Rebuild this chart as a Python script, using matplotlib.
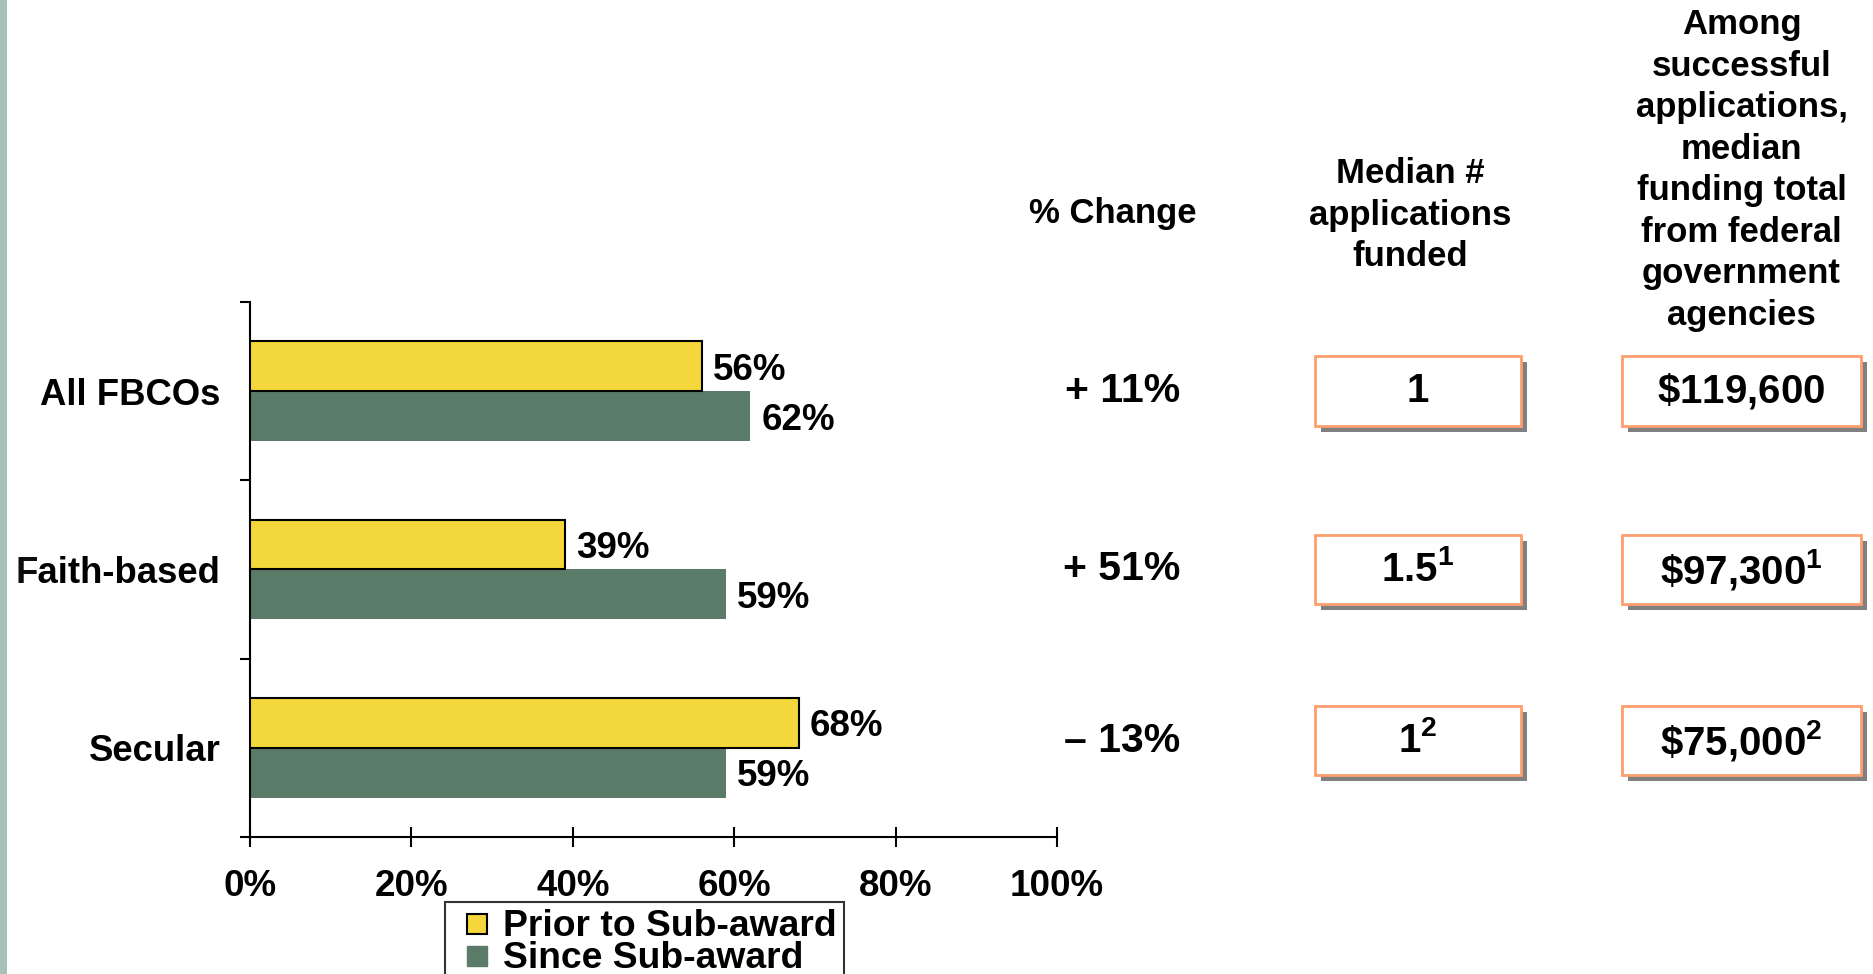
import matplotlib.pyplot as plt
import matplotlib.transforms as mtransforms
from matplotlib.patches import Rectangle
from matplotlib.lines import Line2D
import numpy as np

plt.rcParams['font.family'] = ['Liberation Sans', 'DejaVu Sans']
plt.rcParams['font.weight'] = 'bold'
plt.rcParams['mathtext.fontset'] = 'custom'
plt.rcParams['mathtext.rm'] = 'Liberation Sans:bold'
plt.rcParams['mathtext.bf'] = 'Liberation Sans:bold'

# data
categories = ["All FBCOs", "Faith-based", "Secular"]
prior = [56, 39, 68]
since = [62, 59, 59]
pct_change = ["+ 11%", "+ 51%", "\u2013 13%"]
median_apps = ["1", "1.5$^{1}$", "1$^{2}$"]
median_funding = ["$\\$$119,600", "$\\$$97,300$^{1}$", "$\\$$75,000$^{2}$"]
xticks = [0, 20, 40, 60, 80, 100]
series_names = ["Prior to Sub-award", "Since Sub-award"]

yellow = "#f4d83b"
green = "#5b7b69"

fig = plt.figure(figsize=(18.74, 9.74), dpi=100)
ax = fig.add_axes([0.1334, 0.1407, 0.4306, 0.5493])

y = np.arange(len(categories))
h = 0.28
ax.barh(y - h / 2, prior, height=h, color=yellow, edgecolor="black", linewidth=1.5, zorder=3)
ax.barh(y + h / 2, since, height=h, color=green, zorder=2)

for i in range(len(categories)):
    ax.annotate(f"{prior[i]}%", (prior[i], y[i] - h / 2), xytext=(8, -3),
                textcoords="offset points", va="center", ha="left", fontsize=26.5)
    ax.annotate(f"{since[i]}%", (since[i], y[i] + h / 2), xytext=(8, -3),
                textcoords="offset points", va="center", ha="left", fontsize=26.5)

ax.set_xlim(0, 100)
ax.set_ylim(2.5, -0.5)
ax.set_xticks(xticks)
ax.set_xticklabels([f"{t}%" for t in xticks], fontsize=26.5)
ax.set_yticks([-0.5, 0.5, 1.5, 2.5])
ax.set_yticklabels([])
ax.set_yticks(y, minor=True)
ax.set_yticklabels(categories, minor=True, fontsize=26.3)
ax.tick_params(axis="y", which="major", direction="out", length=7, width=1.5)
ax.tick_params(axis="y", which="minor", length=0, pad=21)
ax.tick_params(axis="x", direction="inout", length=14, width=1.5, pad=16)
for s in ["top", "right"]:
    ax.spines[s].set_visible(False)
for s in ["left", "bottom"]:
    ax.spines[s].set_linewidth(1.5)

# right-hand columns
trans = mtransforms.blended_transform_factory(fig.transFigure, ax.transData)
row_y = [0, 1, 1.96]
for i in range(len(categories)):
    fig.text(0.5988, row_y[i], pct_change[i], transform=trans, ha="center",
             va="center", fontsize=29.5)

box_h = 0.39
cols = [(0.7017, 0.1099, median_apps), (0.8655, 0.1276, median_funding)]
for x0, w, vals in cols:
    for i in range(len(categories)):
        shadow_tr = mtransforms.offset_copy(trans, fig=fig, x=6, y=-6, units="dots")
        fig.add_artist(Rectangle((x0, row_y[i] - box_h / 2), w, box_h, transform=shadow_tr,
                                 facecolor="#808080", edgecolor="none", zorder=1))
        fig.add_artist(Rectangle((x0, row_y[i] - box_h / 2), w, box_h, transform=trans,
                                 facecolor="white", edgecolor="#ff9e6e", linewidth=2, zorder=2))
        fig.text(x0 + w / 2, row_y[i], vals[i], transform=trans, ha="center",
                 va="center", fontsize=29, zorder=3)

# headers
fig.text(0.594, 0.781, "% Change", ha="center", va="center", fontsize=25)
fig.text(0.7525, 0.779, "Median #\napplications\nfunded", ha="center", va="center",
         fontsize=25, linespacing=1.33)
fig.text(0.9293, 0.8255, "Among\nsuccessful\napplications,\nmedian\nfunding total\nfrom federal\ngovernment\nagencies",
         ha="center", va="center", fontsize=25, linespacing=1.33)

# legend
handles = [Line2D([], [], ls="none", marker="s", markersize=14.5, markerfacecolor=yellow,
                  markeredgecolor="black", markeredgewidth=1.5),
           Line2D([], [], ls="none", marker="s", markersize=14.5, markerfacecolor=green,
                  markeredgecolor=green)]
leg = fig.legend(handles, series_names, loc="upper left", bbox_to_anchor=(0.2375, 0.074),
                 fontsize=26.8, frameon=True, fancybox=False, edgecolor="black",
                 borderpad=0.2, labelspacing=-0.1, handlelength=1.3, handleheight=0.5,
                 handletextpad=0.05, borderaxespad=0)
leg.get_frame().set_linewidth(1.5)

# left decorative strip
fig.add_artist(Rectangle((0, 0), 7 / 1874, 1, transform=fig.transFigure,
                         facecolor="#a9c0b8", edgecolor="none"))
grad = fig.add_axes([7 / 1874, 0, 30 / 1874, 1])
grad.imshow(np.linspace(0, 1, 30)[None, :], aspect="auto", cmap="Greys_r",
            vmin=-12, vmax=1, alpha=0.06)
grad.axis("off")

fig.savefig("out.png", dpi=100)
